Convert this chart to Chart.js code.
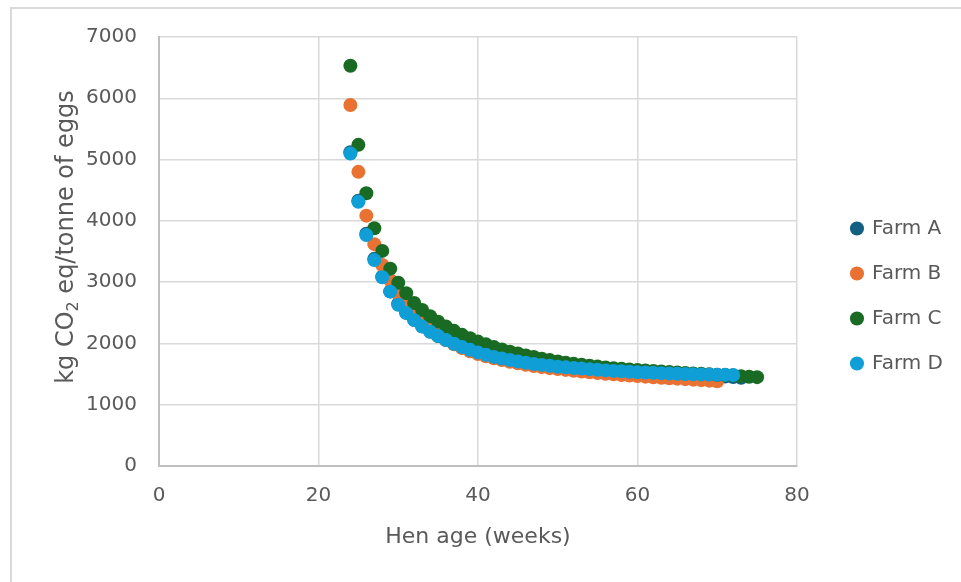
<!DOCTYPE html>
<html>
<head>
<meta charset="utf-8">
<script src="https://cdn.jsdelivr.net/npm/chart.js@4.4.1/dist/chart.umd.min.js"></script>
<style>
  html, body { margin: 0; padding: 0; background: #fff; overflow: hidden; }
  #wrap { position: relative; width: 961px; height: 582px; }
  #frame { position: absolute; left: 10px; top: 7px; width: 960px; height: 580px; border-left: 2px solid #d9d9d9; border-top: 2px solid #d9d9d9; pointer-events: none; }
</style>
</head>
<body>
<div id="wrap">
  <canvas id="chart" width="961" height="582"></canvas>
  <div id="frame"></div>
</div>
<script>
// hen age of the first point of every farm (weeks), one point per week after that
const firstWeek = 24;

const farmNames = ["Farm A", "Farm B", "Farm C", "Farm D"];
const farmColors = ["#156082", "#E97132", "#196B24", "#0F9ED5"];

// kg CO2 eq / tonne of eggs
const farmA = [5120, 4330, 3790, 3380, 3090, 2850, 2650, 2505, 2385, 2280,
  2195, 2120, 2055, 1995, 1942, 1895, 1852, 1815, 1782, 1755,
  1728, 1705, 1683, 1664, 1647, 1632, 1618, 1605, 1594, 1583,
  1573, 1563, 1554, 1546, 1538, 1530, 1523, 1516, 1510, 1504,
  1498, 1492, 1487, 1482, 1477, 1472, 1467, 1460, 1452, 1440];
const farmB = [5890, 4800, 4085, 3620, 3280, 3030, 2800, 2610, 2460, 2335,
  2225, 2135, 2055, 1985, 1925, 1872, 1828, 1790, 1757, 1728,
  1700, 1675, 1652, 1632, 1614, 1597, 1582, 1568, 1554, 1541,
  1529, 1517, 1506, 1496, 1486, 1476, 1467, 1458, 1449, 1441,
  1433, 1425, 1417, 1409, 1401, 1393, 1384];
const farmC = [6530, 5240, 4450, 3880, 3510, 3220, 2990, 2820, 2660, 2545,
  2445, 2355, 2275, 2205, 2140, 2085, 2030, 1985, 1940, 1900,
  1865, 1835, 1805, 1778, 1752, 1728, 1705, 1685, 1667, 1651,
  1636, 1622, 1609, 1597, 1586, 1576, 1567, 1558, 1549, 1541,
  1533, 1525, 1518, 1511, 1504, 1497, 1490, 1483, 1475, 1466,
  1457, 1450];
const farmD = [5100, 4310, 3770, 3360, 3080, 2845, 2630, 2495, 2380, 2275,
  2190, 2120, 2055, 1995, 1940, 1895, 1850, 1815, 1780, 1755,
  1730, 1705, 1685, 1665, 1650, 1635, 1620, 1610, 1600, 1590,
  1580, 1570, 1560, 1552, 1545, 1538, 1530, 1525, 1520, 1515,
  1510, 1506, 1502, 1498, 1495, 1492, 1490, 1488, 1485];

const xTicks = [0, 20, 40, 60, 80];
const yTicks = [0, 1000, 2000, 3000, 4000, 5000, 6000, 7000];

const textColor = "#595959";
const gridColor = "#d9d9d9";
const font = "'DejaVu Sans', sans-serif";

Chart.defaults.font.family = font;
Chart.defaults.color = textColor;

function toPoints(values) {
  return values.map((v, i) => ({ x: firstWeek + i, y: v }));
}

// y title drawn by hand so the 2 can sit as a subscript
const yTitle = {
  id: "yTitle",
  afterDraw(chart) {
    const ctx = chart.ctx;
    const big = "24px " + font;
    const small = "16px " + font;
    const parts = [["kg CO", big, 0], ["2", small, 7], [" eq/tonne of eggs", big, 0]];
    ctx.save();
    let total = 0;
    parts.forEach(p => { ctx.font = p[1]; total += ctx.measureText(p[0]).width; });
    ctx.translate(67, 237);
    ctx.rotate(-Math.PI / 2);
    ctx.fillStyle = textColor;
    ctx.textBaseline = "middle";
    let x = -total / 2;
    parts.forEach(p => {
      ctx.font = p[1];
      ctx.fillText(p[0], x, p[2]);
      x += ctx.measureText(p[0]).width;
    });
    ctx.restore();
  }
};

const series = [farmA, farmB, farmC, farmD];

new Chart(document.getElementById("chart"), {
  type: "scatter",
  data: {
    datasets: series.map((values, i) => ({
      label: farmNames[i],
      data: toPoints(values),
      backgroundColor: farmColors[i],
      borderColor: farmColors[i],
      borderWidth: 0,
      pointRadius: 7,
      pointHoverRadius: 7,
      order: series.length - 1 - i
    }))
  },
  options: {
    responsive: false,
    animation: false,
    layout: { padding: { left: 0, top: 37, right: 8, bottom: 27 } },
    plugins: {
      tooltip: { enabled: false },
      legend: {
        position: "right",
        align: "center",
        reverse: true,
        labels: {
          usePointStyle: true,
          pointStyle: "circle",
          boxWidth: 10,
          boxHeight: 10,
          padding: 25,
          color: textColor,
          font: { size: 20 }
        }
      }
    },
    scales: {
      x: {
        type: "linear",
        min: xTicks[0],
        max: xTicks[xTicks.length - 1],
        afterBuildTicks: s => { s.ticks = xTicks.map(v => ({ value: v })); },
        afterFit: s => { s.height = 89; },
        grid: { color: gridColor, lineWidth: 1.5, drawTicks: false },
        border: { color: "#bfbfbf", width: 2 },
        ticks: { padding: 18, color: textColor, font: { size: 20 }, callback: v => String(v) },
        title: {
          display: true,
          text: "Hen age (weeks)",
          color: textColor,
          font: { size: 22 },
          padding: { top: 0, bottom: 5 }
        }
      },
      y: {
        type: "linear",
        min: yTicks[0],
        max: yTicks[yTicks.length - 1],
        afterBuildTicks: s => { s.ticks = yTicks.map(v => ({ value: v })); },
        afterFit: s => { s.width = 159; },
        grid: { color: gridColor, lineWidth: 1.5, drawTicks: false },
        border: { color: "#bfbfbf", width: 2 },
        ticks: { padding: 22, color: textColor, font: { size: 20 }, callback: v => String(v) }
      },
      gap: {
        type: "linear",
        position: "right",
        min: 0,
        max: 1,
        afterFit: s => { s.width = 30; },
        grid: { display: false, drawTicks: false },
        border: { display: false },
        ticks: { display: false }
      }
    }
  },
  plugins: [yTitle]
});
</script>
</body>
</html>
